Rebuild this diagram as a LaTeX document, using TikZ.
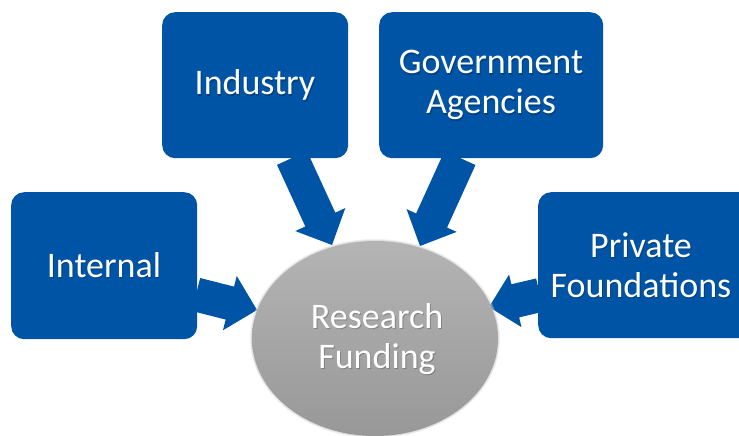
\documentclass[tikz,border=0pt]{standalone}
\usepackage{fontspec}
\setmainfont{Carlito}
\usetikzlibrary{calc}
\definecolor{boxblue}{RGB}{0,84,166}
\definecolor{ellTop}{RGB}{180,180,180}
\definecolor{ellBot}{RGB}{152,152,152}
\newcommand\blockarrow[5]{%
  \path ($(#2)!#5!(#1)$) coordinate (hb);
  \fill[arrowfill] ($(#1)!#3!90:(#2)$) -- ($(hb)!#3!90:(#2)$) -- ($(hb)!#4!90:(#2)$) -- (#2)
     -- ($(hb)!#4!-90:(#2)$) -- ($(hb)!#3!-90:(#2)$) -- ($(#1)!#3!-90:(#2)$) -- cycle;}
\tikzset{
  srcbox/.style={fill=boxblue, rounded corners=13pt, inner sep=0pt, anchor=north west},
  lbl/.style={text=white, font=\fontsize{36}{40}\selectfont, align=center, inner sep=0pt},
  lblshadow/.style={text=black, opacity=0.22, font=\fontsize{36}{40}\selectfont, align=center, inner sep=0pt},
  arrowfill/.style={fill=boxblue},
}
\begin{document}
\begin{tikzpicture}[x=1pt,y=-1pt]
\useasboundingbox (0,0) rectangle (739,436);
% arrows
\coordinate (s1) at (292,158); \coordinate (t1) at (332,245);
\coordinate (s2) at (460,158); \coordinate (t2) at (420,246);
\coordinate (s3) at (196,294.5); \coordinate (t3) at (257,310);
\coordinate (s4) at (540,295); \coordinate (t4) at (489,307);
\blockarrow{s1}{t1}{16.5pt}{27.5pt}{28pt}
\blockarrow{s2}{t2}{17pt}{27.5pt}{28pt}
\blockarrow{s3}{t3}{17pt}{28pt}{28pt}
\blockarrow{s4}{t4}{17pt}{27pt}{27pt}
% boxes
\node[srcbox, minimum width=186pt, minimum height=146pt] (industry) at (162,12) {};
\node[srcbox, minimum width=224pt, minimum height=146pt] (gov) at (379,12) {};
\node[srcbox, minimum width=186pt, minimum height=147pt] (internal) at (11,192) {};
\node[srcbox, minimum width=215pt, minimum height=146pt] (private) at (538,192) {};
% ellipse with soft edge
\fill[gray!35, opacity=0.35] (375,338.5) ellipse [x radius=125, y radius=99.5];
\fill[gray!50, opacity=0.35] (375,338.5) ellipse [x radius=124, y radius=98.5];
\shade[top color=ellTop, bottom color=ellBot] (375,338.5) ellipse [x radius=123, y radius=97.5];
\node[minimum width=246pt, minimum height=195pt, inner sep=0pt] (fund) at (375,338.5) {};
% labels
\foreach \pos/\txt in {{255,85}/Industry, {491,85}/{Government\\Agencies}, {104,265}/Internal, {641,265}/{Private\\Foundations}, {377,339}/{Research\\Funding}} {
  \node[lblshadow] at ($(\pos)+(1,1.5)$) {\txt};
  \node[lbl] at (\pos) {\txt};
}
\end{tikzpicture}
\end{document}
